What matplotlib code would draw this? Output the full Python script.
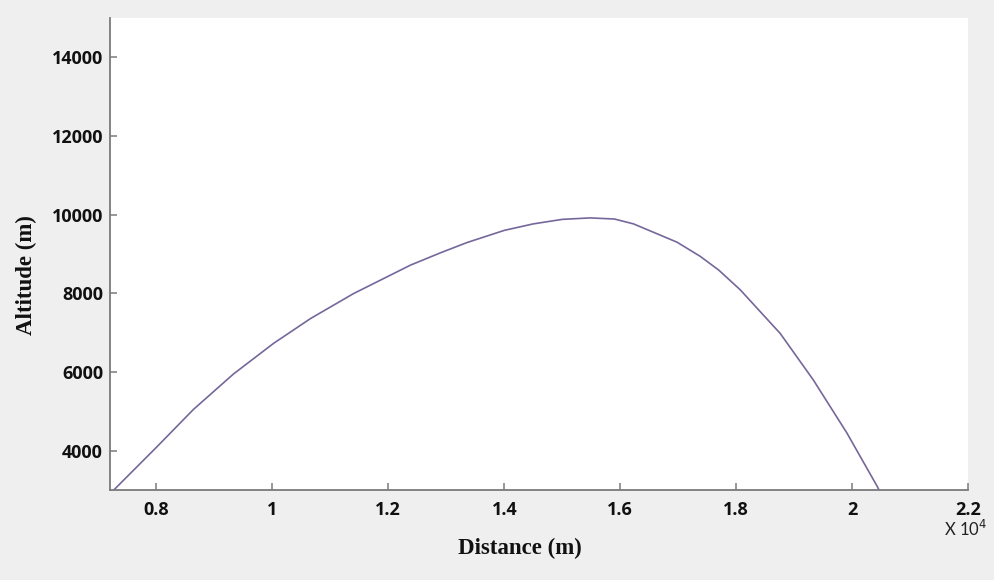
import matplotlib
matplotlib.use("Agg")
import matplotlib.pyplot as plt
from matplotlib.ticker import FuncFormatter

# values (distance in m, altitude in m)
distance = [7265, 8010, 8640, 9330, 10020, 10660, 11400, 12380, 12900, 13360,
            14000, 14500, 15000, 15480, 15900, 16230, 16980, 17380, 17700,
            18070, 18760, 19330, 19910, 20430, 20465]
altitude = [3000, 4100, 5050, 5950, 6727, 7360, 7993, 8715, 9030, 9292,
            9600, 9765, 9880, 9917, 9889, 9765, 9300, 8940, 8590,
            8090, 6980, 5800, 4450, 3100, 3000]

x_ticks = [8000, 10000, 12000, 14000, 16000, 18000, 20000, 22000]
y_ticks = [4000, 6000, 8000, 10000, 12000, 14000]

fig = plt.figure(figsize=(9.95, 5.8), dpi=100, facecolor='#efefef')
ax = fig.add_axes([0.1106, 0.1552, 0.8623, 0.8138])
ax.set_facecolor('white')

ax.plot(distance, altitude, color='#76679a', linewidth=1.2)

ax.set_xlim(7200, 22000)
ax.set_ylim(3000, 15000)
ax.set_xticks(x_ticks)
ax.set_yticks(y_ticks)
ax.xaxis.set_major_formatter(FuncFormatter(lambda v, p: f'{v/1e4:g}'))

for s in ['top', 'right']:
    ax.spines[s].set_visible(False)
for s in ['left', 'bottom']:
    ax.spines[s].set_color('#7a7a7a')
    ax.spines[s].set_linewidth(1.3)

ax.tick_params(direction='in', length=5, width=1.1, color='#7a7a7a',
               labelsize=13, labelcolor='#111111')
ax.tick_params(axis='x', pad=8)
ax.tick_params(axis='y', pad=5)
for lab in ax.get_xticklabels() + ax.get_yticklabels():
    lab.set_fontfamily('Open Sans')
    lab.set_fontweight('bold')

fig.text(0.5226, 0.055, 'Distance (m)', ha='center', va='center',
         family='Liberation Serif', fontweight='bold', fontsize=16.5, color='#111111')
fig.text(0.027, 0.526, 'Altitude (m)', ha='center', va='center', rotation=90,
         family='Liberation Serif', fontweight='bold', fontsize=16.5, color='#111111')
fig.text(0.9925, 0.088, r'X 10$^{4}$', ha='right', va='center',
         family='Lato', fontsize=12, color='#222222')

fig.savefig('out.png', dpi=100, facecolor=fig.get_facecolor())
